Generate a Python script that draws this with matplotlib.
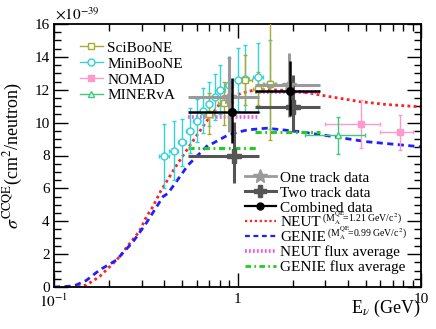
import numpy as np
import matplotlib
matplotlib.use("Agg")
import matplotlib.pyplot as plt
from matplotlib.lines import Line2D
from matplotlib.ticker import FixedLocator, FixedFormatter, MultipleLocator

plt.rcParams["font.family"] = "serif"
plt.rcParams["font.serif"] = ["Liberation Serif", "DejaVu Serif"]
plt.rcParams["mathtext.fontset"] = "stix"

# ---- data (units of 1e-39 cm^2/neutron) ----
# MiniBooNE
mb_E = [0.40, 0.45, 0.50, 0.55, 0.60, 0.65, 0.70, 0.75, 0.80, 0.90, 1.00, 1.10, 1.30, 1.50]
mb_val = [7.99, 8.28, 8.80, 9.51, 10.12, 10.73, 11.15, 11.55, 12.01, 12.26, 12.62, 12.67, 12.76, 12.34]
mb_err = [1.95, 1.80, 1.45, 1.35, 1.30, 1.35, 1.35, 1.40, 1.50, 1.70, 1.90, 2.05, 2.10, 2.70]
mb_xerr = [0.025, 0.025, 0.025, 0.025, 0.025, 0.025, 0.025, 0.025, 0.05, 0.05, 0.05, 0.05, 0.08, 0.1]

# SciBooNE
sb_E = [0.70, 0.84, 1.10, 1.30, 1.50]
sb_val = [10.55, 11.18, 12.60, 12.05, 12.33]
sb_err_lo = [1.25, 1.30, 1.50, 1.00, 3.40]
sb_err_hi = [1.25, 1.30, 1.50, 1.00, 3.90]
sb_xerr = [0.04, 0.06, 0.10, 0.08, 0.13]

# NOMAD
nomad_E = [4.71, 7.68]
nomad_val = [9.94, 9.41]
nomad_err = [1.46, 1.07]
nomad_xlo = [1.72, 1.69]
nomad_xhi = [1.28, 1.35]

# MINERvA
minerva_E = [3.54]
minerva_val = [9.22]
minerva_err = [1.10]
minerva_xlo = [1.21]
minerva_xhi = [1.42]

# T2K INGRID results
one_E = [0.90, 1.91]
one_val = [11.58, 12.28]
one_lo = [9.45, 10.37]
one_hi = [14.05, 14.26]

two_E = [0.96, 2.00]
two_val = [8.00, 10.97]
two_lo = [6.31, 9.45]
two_hi = [10.06, 12.90]

comb_E = [0.93, 1.93]
comb_val = [10.63, 11.95]
comb_lo = [8.75, 10.43]
comb_hi = [12.72, 13.77]

bin_lo = [0.536, 1.24]
bin_hi = [1.31, 2.81]

# flux averaged predictions
neut_avg = [10.35, 11.89]
genie_avg = [8.48, 9.45]

# model curves
neut_E = [0.135, 0.15, 0.177, 0.21, 0.228, 0.259, 0.293, 0.319, 0.346, 0.38, 0.465,
          0.565, 0.68, 0.818, 1.05, 1.24, 1.5, 1.9, 2.48, 3.3, 4.64, 6.5, 10.0]
neut_val = [0.0, 0.12, 0.63, 1.44, 1.85, 2.66, 3.41, 4.28, 4.89, 5.8, 7.4,
            8.8, 10.1, 11.28, 11.79, 11.99, 12.0, 11.95, 11.79, 11.55, 11.28, 11.1, 10.96]
genie_E = [0.10, 0.12, 0.132, 0.15, 0.177, 0.219, 0.27, 0.318, 0.393, 0.418, 0.485,
           0.538, 0.598, 0.691, 0.736, 0.889, 1.03, 1.14, 1.44, 2.19, 3.32, 5.05, 10.0]
genie_val = [0.0, 0.04, 0.12, 0.4, 1.03, 1.64, 2.76, 3.88, 5.5, 5.7, 6.71,
             7.42, 7.93, 8.64, 8.75, 9.25, 9.45, 9.56, 9.66, 9.45, 9.15, 8.84, 8.53]

# colours
c_mb = "#2fd3d8"
c_sb = "#aaaa33"
c_nomad = "#ff99cc"
c_minerva = "#3ccb7e"
c_one = "#9a9a9a"
c_two = "#555555"

fig = plt.figure(figsize=(4.36, 3.29), dpi=100)
ax = fig.add_axes([54 / 436, 1 - 287 / 329, 367 / 436, 263 / 329])

# model curves
ax.plot(neut_E, neut_val, color="#ff2020", lw=2.0, ls=(0, (1.0, 1.2)), zorder=2)
ax.plot(genie_E, genie_val, color="#2020ff", lw=2.0, ls=(0, (2.2, 1.6)), zorder=2)

# flux averaged
ax.hlines(neut_avg, bin_lo, bin_hi, color="#ee55ee", lw=2.6, linestyles=(0, (0.5, 0.6)), zorder=2)
ax.hlines(genie_avg, bin_lo, bin_hi, color="#22cc22", lw=2.2, linestyles=(0, (2.0, 1.2, 0.6, 1.2)), zorder=2)

# external data
ax.errorbar(mb_E, mb_val, yerr=mb_err, xerr=mb_xerr, fmt="o", ms=5, mfc="white",
            mec=c_mb, color=c_mb, ecolor=c_mb, elinewidth=1.0, capsize=1.5, mew=1.0, zorder=3)
ax.errorbar(sb_E, sb_val, yerr=[sb_err_lo, sb_err_hi], xerr=sb_xerr, fmt="s", ms=4,
            mfc="white", mec=c_sb, ecolor=c_sb, elinewidth=1.0, capsize=1.5, mew=1.0, zorder=3)
ax.errorbar(nomad_E, nomad_val, yerr=nomad_err, xerr=[nomad_xlo, nomad_xhi], fmt="s", ms=4,
            mfc=c_nomad, mec=c_nomad, ecolor=c_nomad, elinewidth=1.0, capsize=1.5, zorder=3)
ax.errorbar(minerva_E, minerva_val, yerr=minerva_err, xerr=[minerva_xlo, minerva_xhi], fmt="^",
            ms=4.5, mfc="white", mec=c_minerva, ecolor=c_minerva, elinewidth=1.0, capsize=1.5, zorder=3)

# T2K
def t2k(E, val, lo, hi, **kw):
    E = np.array(E)
    val = np.array(val)
    yerr = [val - np.array(lo), np.array(hi) - val]
    xerr = [E - np.array(bin_lo), np.array(bin_hi) - E]
    ax.errorbar(E, val, yerr=yerr, xerr=xerr, capsize=0, **kw)

t2k(one_E, one_val, one_lo, one_hi, fmt="*", ms=10, color=c_one, elinewidth=2.2, zorder=4)
t2k(two_E, two_val, two_lo, two_hi, fmt="P", ms=10, color=c_two, elinewidth=2.2, zorder=4)
t2k(comb_E, comb_val, comb_lo, comb_hi, fmt="o", ms=5.5, color="black", elinewidth=1.8, zorder=5)

ax.set_xscale("log")
ax.set_xlim(0.1, 10)
ax.set_ylim(0, 16)

ax.xaxis.set_major_locator(FixedLocator([0.1, 1, 10]))
ax.xaxis.set_major_formatter(FixedFormatter(["$10^{-1}$", "1", "10"]))
ax.xaxis.set_minor_locator(FixedLocator([k * 0.1 for k in range(2, 10)] + list(range(2, 10))))
ax.xaxis.set_minor_formatter(FixedFormatter([""] * 16))
ax.yaxis.set_major_locator(MultipleLocator(2))
ax.yaxis.set_minor_locator(MultipleLocator(0.5))
ax.tick_params(which="both", direction="in", top=True, right=True, labelsize=11, width=1.0)
ax.tick_params(which="major", length=10)
ax.tick_params(which="minor", length=5)
ax.tick_params(axis="x", pad=4)
ax.tick_params(axis="y", pad=3)
for s in ax.spines.values():
    s.set_linewidth(1.3)

ax.set_ylabel(r"$\sigma^{\rm CCQE}$(cm$^{2}$/neutron)", fontsize=13)
ax.yaxis.set_label_coords(-0.08, 0.5)
ax.set_xlabel(r"E$_{\nu}$ (GeV)", fontsize=13, ha="right", va="top")
ax.xaxis.set_label_coords(1.0, -0.04)
fig.text(55 / 436, 1 - 14 / 329, r"$\times10^{-39}$", fontsize=11, va="center", ha="left")

# legends
h1 = [Line2D([], [], color=c_sb, marker="s", ms=4, mfc="white", lw=1),
      Line2D([], [], color=c_mb, marker="o", ms=5, mfc="white", lw=1),
      Line2D([], [], color=c_nomad, marker="s", ms=4, lw=1),
      Line2D([], [], color=c_minerva, marker="^", ms=4.5, mfc="white", lw=1)]
leg1 = ax.legend(h1, ["SciBooNE", "MiniBooNE", "NOMAD", "MINERvA"], loc="upper left",
                 bbox_to_anchor=(0.05, 0.965), frameon=False, fontsize=11, borderpad=0,
                 handlelength=1.5, handletextpad=0.3, labelspacing=0.15)
ax.add_artist(leg1)

h2 = [Line2D([], [], color=c_one, marker="*", ms=10, lw=2),
      Line2D([], [], color=c_two, marker="P", ms=9, lw=2.2),
      Line2D([], [], color="black", marker="o", ms=5, lw=1.6),
      Line2D([], [], color="#ff2020", lw=1.6, ls=(0, (1.0, 1.2))),
      Line2D([], [], color="#2020ff", lw=1.6, ls=(0, (2.2, 1.6))),
      Line2D([], [], color="#ee55ee", lw=2.6, ls=(0, (0.5, 0.6))),
      Line2D([], [], color="#22cc22", lw=2.0, ls=(0, (2.0, 1.2, 0.6, 1.2)))]
labels2 = ["One track data", "Two track data", "Combined data", "NEUT", "GENIE",
           "NEUT flux average", "GENIE flux average"]
leg2 = ax.legend(h2, labels2, loc="upper left", bbox_to_anchor=(0.50, 0.47),
                 frameon=False, fontsize=11, borderpad=0, handlelength=2.0,
                 handletextpad=0.3, labelspacing=0.08)

# small M_A annotations right after NEUT / GENIE legend labels
fig.canvas.draw()
texts = leg2.get_texts()
W, H = fig.canvas.get_width_height()
for t, lab in zip(texts[3:5], [r"(M$_{\rm A}^{\rm QE}\!$=1.21 GeV/c$^{2}$)",
                               r"(M$_{\rm A}^{\rm QE}\!$=0.99 GeV/c$^{2}$)"]):
    bb = t.get_window_extent()
    fig.text((bb.x1 + 1) / W, (bb.y0 + 2) / H, lab, fontsize=7, va="bottom", ha="left")

fig.savefig("out.png", dpi=100)
